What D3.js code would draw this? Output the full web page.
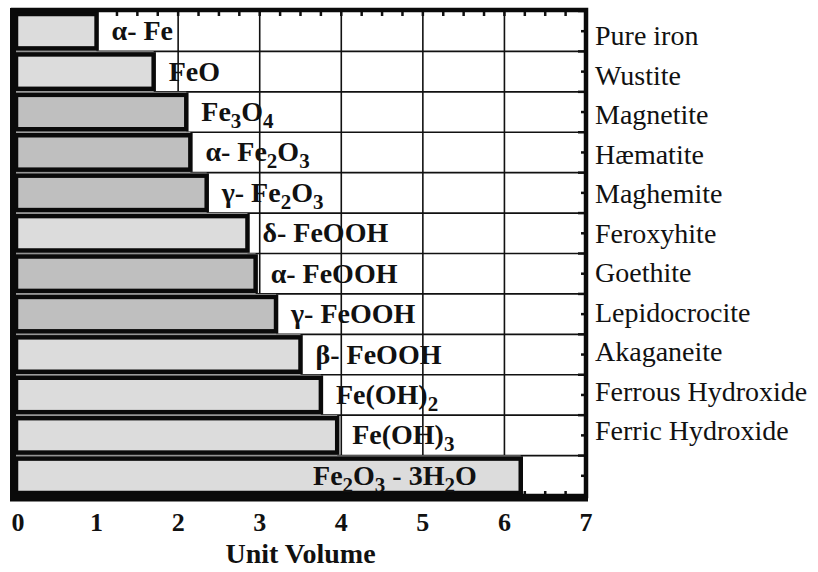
<!DOCTYPE html>
<html>
<head>
<meta charset="utf-8">
<script src="https://cdn.jsdelivr.net/npm/d3@7"></script>
<style>
  body { margin: 0; background: #fff; }
</style>
</head>
<body>
<svg id="chart" width="818" height="572"></svg>
<script>
// compounds, top to bottom ("_n" = subscript n)
const compounds = ["α- Fe", "FeO", "Fe_3O_4", "α- Fe_2O_3", "γ- Fe_2O_3", "δ- FeOOH",
  "α- FeOOH", "γ- FeOOH", "β- FeOOH", "Fe(OH)_2", "Fe(OH)_3", "Fe_2O_3 - 3H_2O"];
const minerals = ["Pure iron", "Wustite", "Magnetite", "Hæmatite", "Maghemite", "Feroxyhite",
  "Goethite", "Lepidocrocite", "Akaganeite", "Ferrous Hydroxide", "Ferric Hydroxide"];
const unitVolume = [1.0, 1.7, 2.1, 2.15, 2.35, 2.85, 2.95, 3.2, 3.5, 3.75, 3.95, 6.2];
// shade group: 0 = light, 1 = darker
const shade = [0, 0, 1, 1, 1, 0, 1, 1, 0, 0, 0, 0];
const xTicks = [0, 1, 2, 3, 4, 5, 6, 7];

const serif = "'Liberation Serif', 'Times New Roman', Times, 'DejaVu Serif', serif";
const svg = d3.select("#chart").attr("font-family", serif);
const plotL = 15, plotR = 586, plotT = 11, plotB = 496;

const x = d3.scaleLinear().domain([0, 7]).range([plotL, plotR]);
const y = d3.scaleBand().domain(compounds).range([plotT, plotB]).padding(0);
const yName = d3.scalePoint().domain(minerals).range([45, 440]);
const fill = d3.scaleOrdinal().domain([0, 1]).range(["#dcdcdc", "#bfbfbf"]);

// grid
const grid = svg.append("g").attr("stroke", "#111").attr("stroke-width", 1.6);
grid.selectAll("line.v").data(xTicks.slice(1, -1)).join("line").attr("class", "v")
  .attr("x1", d => x(d)).attr("x2", d => x(d)).attr("y1", plotT).attr("y2", plotB);
grid.selectAll("line.h").data(compounds.slice(1)).join("line").attr("class", "h")
  .attr("x1", plotL).attr("x2", plotR).attr("y1", d => y(d)).attr("y2", d => y(d));

// minor ticks on all four sides (inward)
const minor = d3.range(0, 7.001, 0.25);
const ticks = svg.append("g").attr("stroke", "#111").attr("stroke-width", 2.5);
ticks.selectAll("line.t").data(minor).join("line").attr("class", "t")
  .attr("x1", d => x(d)).attr("x2", d => x(d)).attr("y1", plotT).attr("y2", plotT + 5);
ticks.selectAll("line.b").data(minor).join("line").attr("class", "b")
  .attr("x1", d => x(d)).attr("x2", d => x(d)).attr("y1", plotB).attr("y2", plotB - 5);
const halfRows = d3.range(0, compounds.length * 2 + 1).map(i => plotT + i * y.bandwidth() / 2);
ticks.selectAll("line.r").data(halfRows).join("line").attr("class", "r")
  .attr("x1", plotR).attr("x2", (d, i) => plotR - (i % 2 ? 5 : 8)).attr("y1", d => d).attr("y2", d => d);
ticks.selectAll("line.l").data(halfRows).join("line").attr("class", "l")
  .attr("x1", plotL).attr("x2", plotL + 5).attr("y1", d => d).attr("y2", d => d);

// bars: backing strip, then outlined bar
const rows = svg.append("g").selectAll("g").data(compounds).join("g");
rows.append("rect")
  .attr("x", plotL).attr("y", d => y(d))
  .attr("width", (d, i) => x(unitVolume[i]) - plotL).attr("height", y.bandwidth())
  .attr("fill", "#bdbdbd");
rows.append("rect")
  .attr("x", plotL + 1).attr("y", d => y(d) + 3)
  .attr("width", (d, i) => x(unitVolume[i]) - plotL - 1).attr("height", y.bandwidth() - 6)
  .attr("fill", (d, i) => fill(shade[i]))
  .attr("stroke", "#0a0a0a").attr("stroke-width", 4.5);

// bar labels with subscripts
function addFormula(sel, str) {
  let shift = 0;
  str.split(/(_\d)/).filter(s => s).forEach(part => {
    if (part[0] === "_") {
      sel.append("tspan").attr("font-size", 21).attr("dy", 7 - shift).text(part.slice(1));
      shift = 7;
    } else {
      sel.append("tspan").attr("dy", -shift).text(part);
      shift = 0;
    }
  });
}
rows.append("text")
  .attr("font-weight", "bold").attr("font-size", 28).attr("fill", "#111")
  .attr("x", (d, i) => unitVolume[i] > 5 ? x(unitVolume[i]) - 44 : x(unitVolume[i]) + 15)
  .attr("text-anchor", (d, i) => unitVolume[i] > 5 ? "end" : "start")
  .attr("y", d => y(d) + y.bandwidth() / 2 + 9)
  .each(function (d) { addFormula(d3.select(this), d); });

// frame
svg.append("rect").attr("x", plotL - 2).attr("y", plotT - 1)
  .attr("width", plotR - plotL + 2).attr("height", plotB - plotT + 1)
  .attr("fill", "none").attr("stroke", "#0a0a0a").attr("stroke-width", 4.5);
svg.append("line").attr("x1", plotL - 2).attr("x2", plotL - 2).attr("y1", plotT - 3).attr("y2", plotB + 5)
  .attr("stroke", "#0a0a0a").attr("stroke-width", 6);
svg.append("line").attr("x1", plotL - 5).attr("x2", plotR + 2).attr("y1", plotB + 2).attr("y2", plotB + 2)
  .attr("stroke", "#0a0a0a").attr("stroke-width", 7);

// mineral names on the right
svg.append("g").selectAll("text").data(minerals).join("text")
  .attr("x", 595).attr("y", d => yName(d)).attr("fill", "#111")
  .attr("font-size", 28).text(d => d);

// x tick labels and title
svg.append("g").selectAll("text").data(xTicks).join("text")
  .attr("x", d => x(d) + (d === 0 ? 3 : 0)).attr("y", 531).attr("fill", "#111")
  .attr("text-anchor", "middle").attr("font-weight", "bold").attr("font-size", 26)
  .text(d => d);
svg.append("text").attr("x", (plotL + plotR) / 2).attr("y", 563).attr("fill", "#111")
  .attr("text-anchor", "middle").attr("font-weight", "bold").attr("font-size", 28)
  .text("Unit Volume");
</script>
</body>
</html>
